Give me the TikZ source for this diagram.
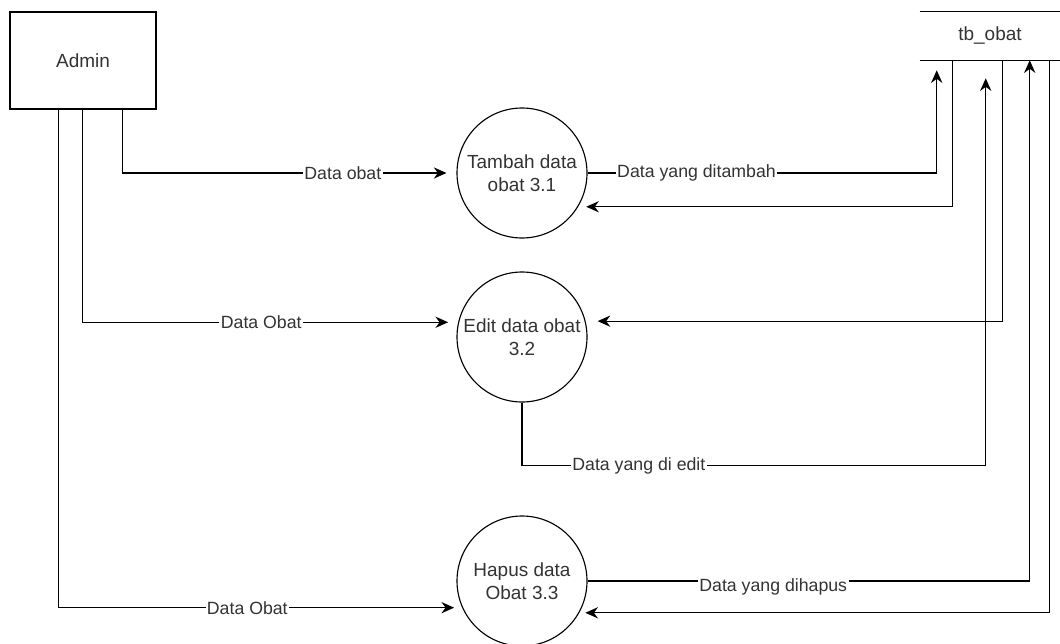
\documentclass[tikz,border=0pt]{standalone}
\usepackage{fontspec}
\setmainfont{Liberation Sans}
\usetikzlibrary{positioning,arrows.meta}

\begin{document}
\begin{tikzpicture}
	\tikzstyle{entity} =[draw, line width=0.9pt, minimum width=3.65cm, minimum height=2.425cm, text=black!80, font=\fontsize{13.5}{16}\selectfont];
	\tikzstyle{process} =[draw, circle, line width=0.8pt, minimum size=3.25cm, inner sep=0pt, align=center, text=black!80, font=\fontsize{13.5}{16.3}\selectfont];
	\tikzstyle{store} =[minimum width=3.5cm, minimum height=1.2cm, text=black!80, font=\fontsize{13.5}{16}\selectfont];
	\tikzstyle{flow} =[line width=0.9pt, -{Stealth[length=9pt,width=8pt]}];
	\tikzstyle{lbl} =[fill=white, inner sep=1pt, text=black!80, font=\fontsize{12.6}{15}\selectfont];
	\useasboundingbox (0,0) rectangle (26.5,-16.075);

	\node[entity] (admin) at (2.075,-1.5125) {Admin};
	\node[store] (obat) at (24.75,-0.9) {tb\_obat};
	\draw[line width=0.9pt] (obat.north west) -- (obat.north east) (obat.south west) -- (obat.south east);
	\node[process] (tambah) at (13.05,-4.325) {Tambah data\\obat 3.1};
	\node[process, below of = tambah, node distance=4.1cm] (edit) {Edit data obat\\3.2};
	\node[process, below of = edit, node distance=6.1cm] (hapus) {Hapus data\\Obat 3.3};

	\draw[flow, shorten >=0.25cm] ([xshift=2.825cm]admin.south west) |- node[lbl, pos=0.83] {Data obat} (tambah.west);
	\draw[flow, shorten >=0.25cm] ([xshift=1.825cm]admin.south west) |- node[lbl, pos=0.738] {Data Obat} (edit.167);
	\draw[flow, shorten >=0.2cm] ([xshift=1.225cm]admin.south west) |- node[lbl, pos=0.734] {Data Obat} (hapus.204.5);

	\draw[flow] (tambah.east) -| node[lbl, pos=0.156] {Data yang ditambah} ([xshift=0.425cm,yshift=-0.25cm]obat.south west);
	\draw[flow, shorten >=0.2cm] ([xshift=0.825cm]obat.south west) |- (tambah.-31.5);
	\draw[flow, shorten >=0.3cm] ([xshift=2.075cm]obat.south west) |- (edit.14);
	\draw[flow] (edit.south) -- ++(0,-1.575) -| node[lbl, pos=0.126] {Data yang di edit} ([xshift=1.65cm,yshift=-0.45cm]obat.south west);
	\draw[flow] (hapus.east) -| node[lbl, pos=0.21, yshift=-0.15cm] {Data yang dihapus} ([xshift=2.75cm]obat.south west);
	\draw[flow, shorten >=0.15cm] ([xshift=3.25cm]obat.south west) |- (hapus.-29.5);
\end{tikzpicture}
\end{document}
